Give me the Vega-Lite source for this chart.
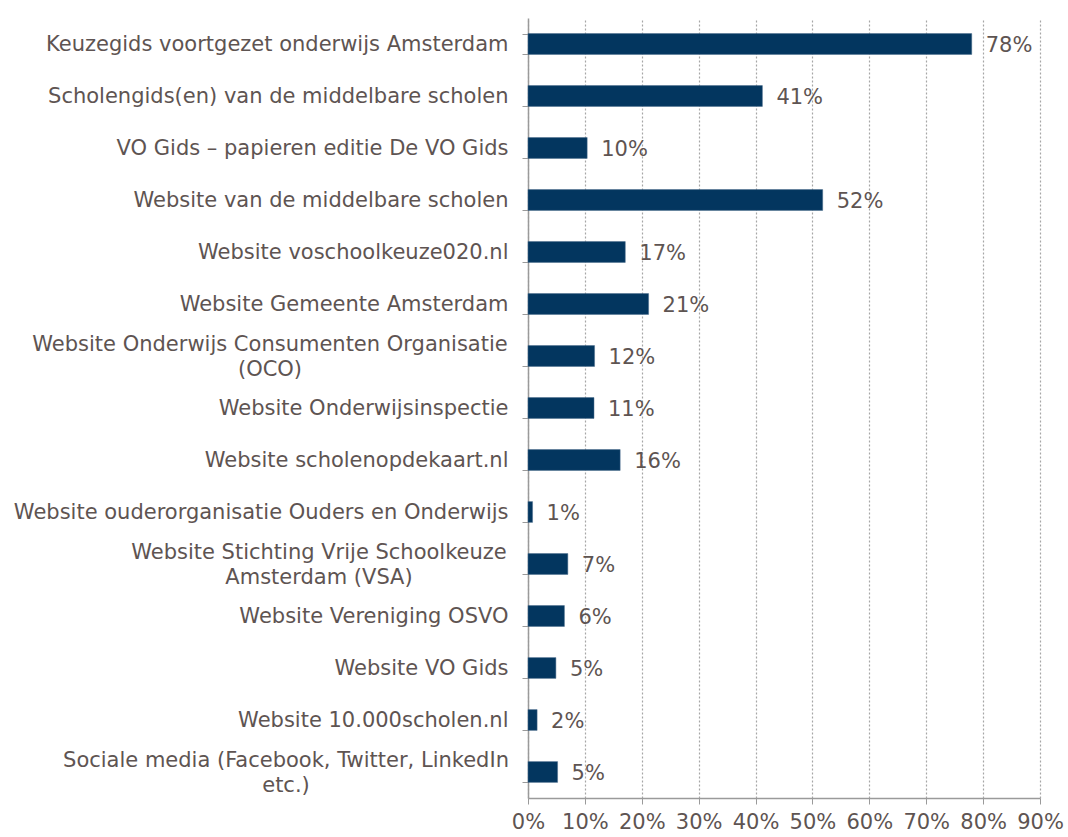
{
  "$schema": "https://vega.github.io/schema/vega-lite/v6.json",
  "autosize": "none",
  "width": 512,
  "height": 780,
  "padding": {"left": 528, "top": 18, "right": 28, "bottom": 39},
  "background": "white",
  "config": {
    "view": {"stroke": null},
    "font": "DejaVu Sans",
    "text": {"font": "DejaVu Sans"}
  },
  "data": {
    "values": [
      {"bron": "Keuzegids voortgezet onderwijs Amsterdam", "pct": 78, "label": "78%"},
      {"bron": "Scholengids(en) van de middelbare scholen", "pct": 41.2, "label": "41%"},
      {"bron": "VO Gids – papieren editie De VO Gids", "pct": 10.4, "label": "10%"},
      {"bron": "Website van de middelbare scholen", "pct": 51.8, "label": "52%"},
      {"bron": "Website voschoolkeuze020.nl", "pct": 17.1, "label": "17%"},
      {"bron": "Website Gemeente Amsterdam", "pct": 21.2, "label": "21%"},
      {"bron": "Website Onderwijs Consumenten Organisatie|(OCO)", "pct": 11.7, "label": "12%"},
      {"bron": "Website Onderwijsinspectie", "pct": 11.6, "label": "11%"},
      {"bron": "Website scholenopdekaart.nl", "pct": 16.2, "label": "16%"},
      {"bron": "Website ouderorganisatie Ouders en Onderwijs", "pct": 0.8, "label": "1%"},
      {"bron": "Website Stichting Vrije Schoolkeuze|Amsterdam (VSA)", "pct": 7.0, "label": "7%"},
      {"bron": "Website Vereniging OSVO", "pct": 6.4, "label": "6%"},
      {"bron": "Website VO Gids", "pct": 4.9, "label": "5%"},
      {"bron": "Website 10.000scholen.nl", "pct": 1.6, "label": "2%"},
      {"bron": "Sociale media (Facebook, Twitter, LinkedIn|etc.)", "pct": 5.2, "label": "5%"}
    ]
  },
  "encoding": {
    "y": {
      "field": "bron",
      "type": "nominal",
      "sort": null,
      "scale": {"paddingInner": 0.6, "paddingOuter": 0.3},
      "axis": {
        "title": null,
        "labelExpr": "indexof(datum.label, '|') >= 0 ? '' : datum.label",
        "labelFont": "DejaVu Sans",
        "labelFontSize": 21,
        "labelColor": "#5e5452",
        "labelLimit": 700,
        "labelPadding": 14,
        "tickBand": "extent",
        "tickSize": 6,
        "tickColor": "#9a9a9a",
        "domainColor": "#9a9a9a",
        "domainWidth": 1.5,
        "grid": false
      }
    }
  },
  "layer": [
    {
      "mark": {"type": "bar", "color": "#03365f", "stroke": "#4a6d8c", "strokeWidth": 0.5},
      "encoding": {
        "x": {
          "field": "pct",
          "type": "quantitative",
          "scale": {"domain": [0, 90], "nice": false},
          "axis": {
            "title": null,
            "values": [0, 10, 20, 30, 40, 50, 60, 70, 80, 90],
            "labelExpr": "datum.value + '%'",
            "labelFont": "DejaVu Sans",
            "labelFontSize": 21,
            "labelColor": "#5e5452",
            "labelPadding": 7,
            "labelOverlap": false,
            "labelBound": false,
            "labelFlush": false,
            "tickSize": 6,
            "tickColor": "#9a9a9a",
            "domainColor": "#9a9a9a",
            "domainWidth": 1.5,
            "grid": true,
            "gridColor": "#a6a6a6",
            "gridDash": [2, 2],
            "gridWidth": 1.2
          }
        }
      }
    },
    {
      "mark": {"type": "text", "align": "left", "baseline": "middle", "dx": 14, "dy": 2, "fontSize": 21, "color": "#5e5452", "font": "DejaVu Sans"},
      "encoding": {
        "x": {"field": "pct", "type": "quantitative"},
        "text": {"field": "label"}
      }
    },
    {
      "transform": [
        {"filter": "indexof(datum.bron, '|') >= 0"},
        {"calculate": "split(datum.bron, '|')", "as": "regels"}
      ],
      "mark": {
        "type": "text",
        "align": "center",
        "baseline": "middle",
        "lineHeight": 25,
        "dy": -11,
        "dx": {"expr": "indexof(datum.bron, 'OCO') >= 0 ? -258 : indexof(datum.bron, 'VSA') >= 0 ? -209 : -242"},
        "fontSize": 21,
        "color": "#5e5452",
        "font": "DejaVu Sans"
      },
      "encoding": {
        "x": {"datum": 0, "type": "quantitative"},
        "text": {"field": "regels"}
      }
    }
  ]
}
